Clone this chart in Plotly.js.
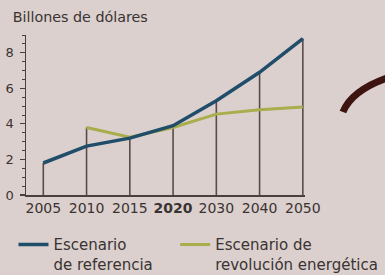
<!DOCTYPE html>
<html>
<head>
<meta charset="utf-8">
<script src="https://cdn.plot.ly/plotly-3.0.1.min.js"></script>
<style>html,body{margin:0;padding:0;background:#dbd0cd;}#chart{width:385px;height:275px;}</style>
</head>
<body>
<div id="chart"></div>
<script>
// Data (billions of dollars)
const years = ['2005', '2010', '2015', '2020', '2030', '2040', '2050'];
const yearLabels = ['2005', '2010', '2015', '<b>2020</b>', '2030', '2040', '2050'];
const referencia = [1.8, 2.75, 3.2, 3.9, 5.3, 6.9, 8.8];
const revolucion = [null, 3.8, 3.25, 3.8, 4.55, 4.8, 4.95];
const seriesNames = ['Escenario<br>de referencia', 'Escenario de<br>revolución energética'];
const yTicks = [0, 2, 4, 6, 8];

// vertical drop lines from 0 to the higher of the two series at each year
const dropX = [], dropY = [];
years.forEach((yr, i) => {
  const top = Math.max(referencia[i] ?? 0, revolucion[i] ?? 0);
  dropX.push(yr, yr, null);
  dropY.push(0, top, null);
});

const txtColor = '#3a3333';
const traces = [
  {x: dropX, y: dropY, mode: 'lines', line: {color: '#5a4b48', width: 1.6}, showlegend: false, hoverinfo: 'skip'},
  {x: years, y: revolucion, name: seriesNames[1], mode: 'lines', line: {color: '#a9ad4c', width: 3}, legend: 'legend2'},
  {x: years, y: referencia, name: seriesNames[0], mode: 'lines', line: {color: '#1f4d6a', width: 3.5}, legend: 'legend'}
];

const legendBase = {orientation: 'h', xref: 'container', yref: 'container', xanchor: 'left', y: 0.17, yanchor: 'top',
           valign: 'top', bgcolor: 'rgba(0,0,0,0)', font: {size: 15, color: txtColor}};

const layout = {
  width: 385, height: 275,
  margin: {l: 26, r: 80, t: 35, b: 80},
  paper_bgcolor: '#dbd0cd', plot_bgcolor: 'rgba(0,0,0,0)',
  font: {family: '"DejaVu Sans", Verdana, sans-serif', size: 14, color: txtColor},
  title: {text: 'Billones de dólares', x: 0.033, xref: 'container', xanchor: 'left', y: 0.94, yref: 'container', yanchor: 'middle',
          font: {size: 14.3, color: txtColor}},
  xaxis: {type: 'category', range: [-0.4, 6.05], tickvals: years, ticktext: yearLabels,
          showgrid: false, zeroline: false, showline: true, linecolor: '#4a3f3d', linewidth: 1.5,
          ticks: '', tickfont: {size: 14, color: txtColor}, fixedrange: true},
  yaxis: {range: [0, 9], tickvals: yTicks, showgrid: false, zeroline: false, showline: true,
          linecolor: '#4a3f3d', linewidth: 1.5, ticks: 'outside', ticklen: 5, tickwidth: 1.2, tickcolor: '#4a3f3d',
          minor: {dtick: 0.5, ticks: 'outside', ticklen: 3, tickcolor: '#4a3f3d', tickwidth: 1},
          tickfont: {size: 13, color: txtColor}, ticklabelstandoff: 3, fixedrange: true},
  legend: Object.assign({}, legendBase, {x: 0.035}),
  legend2: Object.assign({}, legendBase, {x: 0.455}),
  shapes: [{type: 'path', xref: 'paper', yref: 'paper', path: 'M 1.136 0.519 Q 1.168 0.656 1.30 0.735',
            line: {color: '#3d1410', width: 7}}]
};

Plotly.newPlot('chart', traces, layout, {displayModeBar: false, staticPlot: true});
</script>
</body>
</html>
